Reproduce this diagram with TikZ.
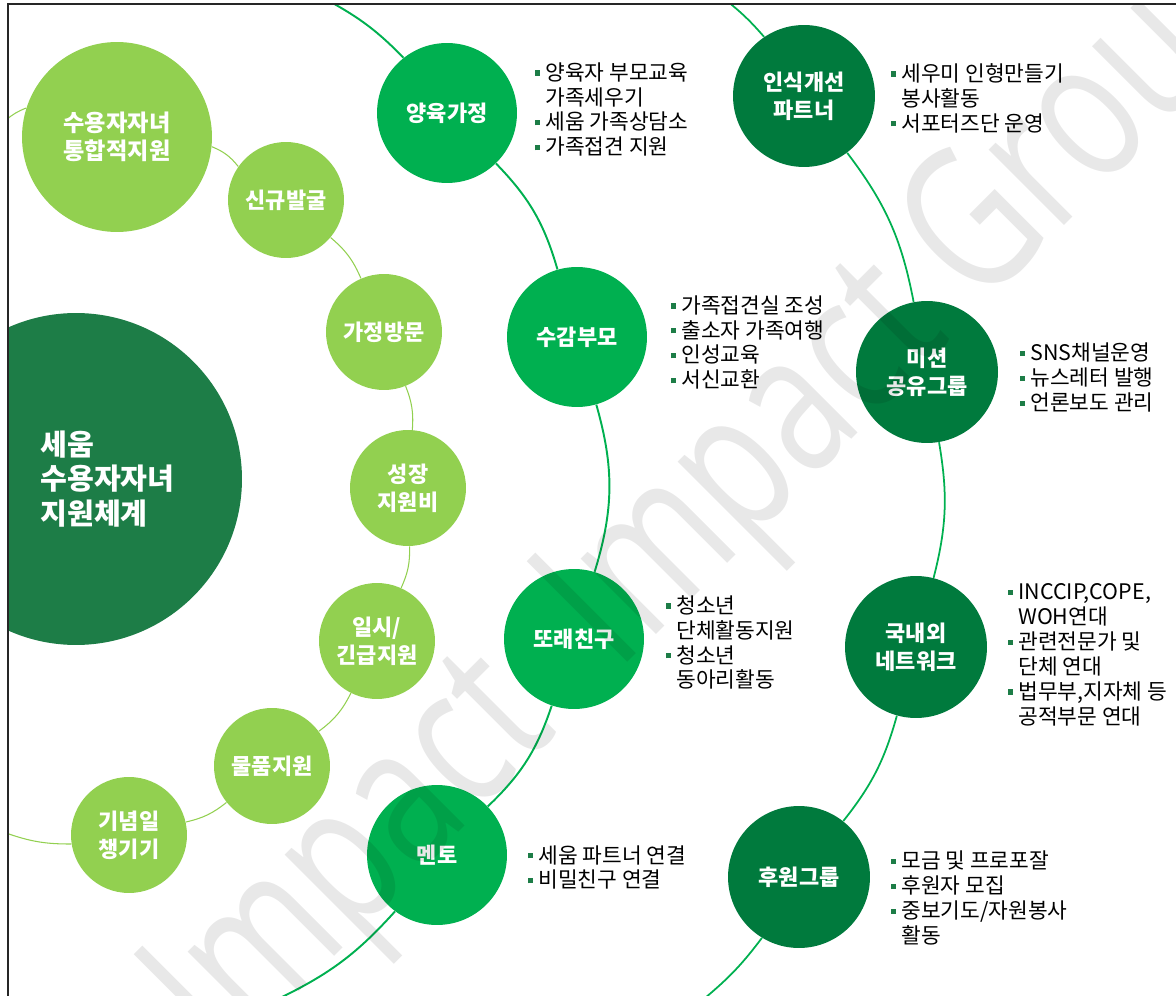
\documentclass[tikz,border=0pt]{standalone}
\usepackage{fontspec}
\setmainfont{Noto Sans CJK KR}
\newfontfamily\wmfont{Open Sans}
\definecolor{coreg}{HTML}{1D7D47}
\definecolor{lightg}{HTML}{92D050}
\definecolor{midg}{HTML}{00B050}
\definecolor{outg}{HTML}{007A3D}
\definecolor{bulg}{HTML}{1D7D47}
\newcommand\bsq{\makebox[5.7pt][l]{\textcolor{bulg}{\rule[2.6pt]{2.9pt}{2.9pt}}}}
\newcommand\bind{\hspace*{5.7pt}}
\tikzset{
  bubble/.style={circle, inner sep=0pt, text=white, align=center,
    font=\fontsize{12.5}{15.9}\selectfont\bfseries},
  lbub/.style={bubble, fill=lightg, minimum size=2.32cm},
  bigbub/.style={bubble, fill=lightg, minimum size=3.8cm,
    font=\fontsize{13.2}{16.2}\selectfont\bfseries},
  mbub/.style={bubble, fill=midg, minimum size=2.8cm},
  obub/.style={bubble, fill=outg, minimum size=2.84cm},
  corebub/.style={circle, fill=coreg, minimum size=6.64cm, inner sep=0pt},
  coretxt/.style={anchor=west, inner sep=0pt, text=white, align=left,
    font=\fontsize{16.6}{19.8}\selectfont\bfseries},
  lightline/.style={draw=lightg, line width=0.6pt},
  midline/.style={draw=midg, line width=1.1pt},
  outline/.style={draw=midg, line width=1pt},
  itemlist/.style={anchor=west, inner sep=0pt, align=left, text=black,
    font=\fontsize{12.2}{14.2}\selectfont},
  frameline/.style={draw=black!85, line width=1.2pt},
  wmark/.style={inner sep=0pt, text=black, opacity=0.09,
    font=\wmfont\fontsize{84}{84}\selectfont},
}
\begin{document}
\begin{tikzpicture}[x=0.02cm, y=0.02cm]
\useasboundingbox (0,0) rectangle (1176,-996);
\begin{scope}
\clip (8,-4) rectangle (1176,-996);
% core
\node[corebub] (core) at (76,-479) {};
\node[coretxt] (coret) at (40,-479) {세움\\수용자자녀\\지원체계};
% inner (light) orbit
\node[bigbub] (l1) at (117,-137) {수용자자녀\\통합적지원};
\node[lbub] (l2) at (286,-200) {신규발굴};
\node[lbub] (l3) at (384,-332) {가정방문};
\node[lbub] (l4) at (408,-488) {성장\\지원비};
\node[lbub] (l5) at (377,-641) {일시/\\긴급지원};
\node[lbub] (l6) at (272,-766) {물품지원};
\node[lbub] (l7) at (129,-835) {기념일\\챙기기};
\coordinate (lt) at (6,-120);
\coordinate (lb) at (6,-833);
% middle orbit
\node[mbub] (m1) at (447,-113) {양육가정};
\node[mbub] (m2) at (577,-337) {수감부모};
\node[mbub] (m3) at (574,-639) {또래친구};
\node[mbub] (m4) at (437,-855) {멘토};
\coordinate (mt) at (329,-1);
\coordinate (mb) at (280,-998);
% outer orbit
\node[obub] (o1) at (804,-96) {인식개선\\파트너};
\node[obub] (o2) at (927,-372) {미션\\공유그룹};
\node[obub] (o3) at (916,-647) {국내외\\네트워크};
\node[obub] (o4) at (799,-877) {후원그룹};
\coordinate (ot) at (727,-1);
\coordinate (ob) at (705,-998);
% connectors
\draw[lightline] (lt) to[bend left=9] (l1);
\draw[lightline] (l1) to[bend left=14.6] (l2);
\draw[lightline] (l2) to[bend left=13.3] (l3);
\draw[lightline] (l3) to[bend left=13] (l4);
\draw[lightline] (l4) to[bend left=13] (l5);
\draw[lightline] (l5) to[bend left=13.4] (l6);
\draw[lightline] (l6) to[bend left=12.9] (l7);
\draw[lightline] (l7) to[bend left=9.8] (lb);
\draw[midline] (mt) to[bend left=8.3] (m1);
\draw[midline] (m1) to[bend left=14] (m2);
\draw[midline] (m2) to[bend left=16.5] (m3);
\draw[midline] (m3) to[bend left=13.9] (m4);
\draw[midline] (m4) to[bend left=11] (mb);
\draw[outline] (ot) to[bend left=5] (o1);
\draw[outline] (o1) to[bend left=13.2] (o2);
\draw[outline] (o2) to[bend left=12] (o3);
\draw[outline] (o3) to[bend left=11.4] (o4);
\draw[outline] (o4) to[bend left=6.5] (ob);
% item lists
\node[itemlist] (t1) at (535,-109.5) {\bsq 양육자 부모교육\\\bind 가족세우기\\\bsq 세움 가족상담소\\\bsq 가족접견 지원};
\node[itemlist] (t2) at (891,-98) {\bsq 세우미 인형만들기\\\bind 봉사활동\\\bsq 서포터즈단 운영};
\node[itemlist] (t3) at (671,-342.5) {\bsq 가족접견실 조성\\\bsq 출소자 가족여행\\\bsq 인성교육\\\bsq 서신교환};
\node[itemlist] (t4) at (1020,-377.5) {\bsq SNS채널운영\\\bsq 뉴스레터 발행\\\bsq 언론보도 관리};
\node[itemlist] (t5) at (666,-642.5) {\bsq 청소년\\\bind 단체활동지원\\\bsq 청소년\\\bind 동아리활동};
\node[itemlist] (t6) at (1008,-654.5) {\bsq INCCIP,COPE,\\\bind WOH연대\\\bsq 관련전문가 및\\\bind 단체 연대\\\bsq 법무부,지자체 등\\\bind 공적부문 연대};
\node[itemlist] (t7) at (528,-867.5) {\bsq 세움 파트너 연결\\\bsq 비밀친구 연결};
\node[itemlist] (t8) at (891,-898) {\bsq 모금 및 프로포잘\\\bsq 후원자 모집\\\bsq 중보기도/자원봉사\\\bind 활동};
% watermark
\node[wmark, rotate=45, yscale=1.35] (wm) at (722,-500) {Impact\hspace{0.3em} Impact Group};
\end{scope}
\draw[frameline] (8,-996) -- (8,-4) -- (1176,-4);
\end{tikzpicture}
\end{document}
